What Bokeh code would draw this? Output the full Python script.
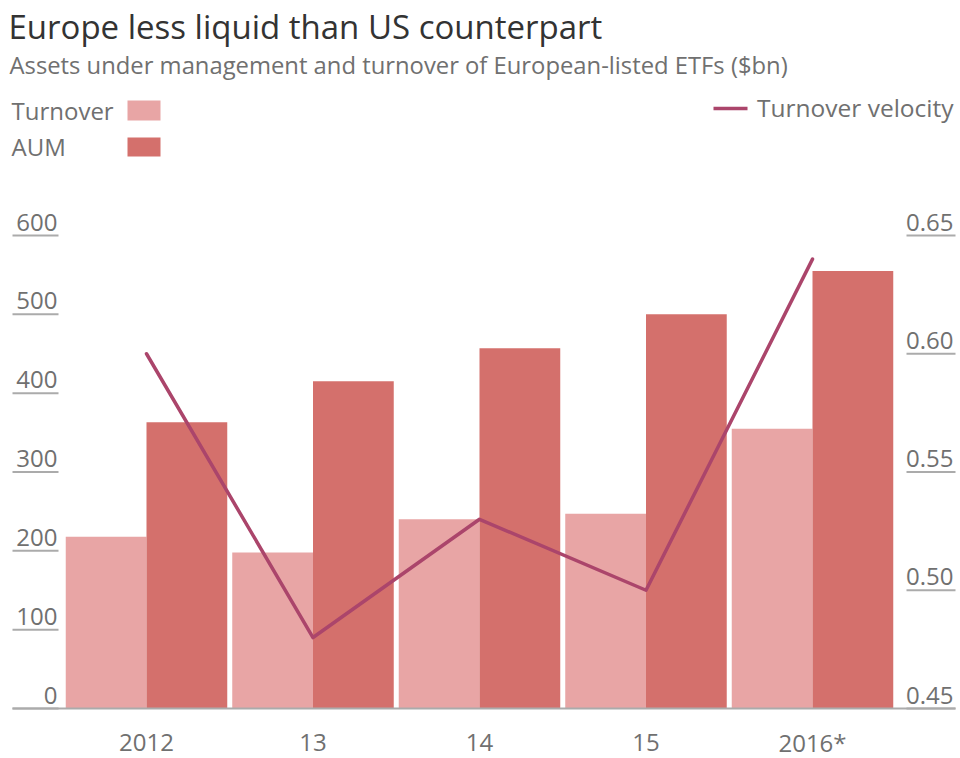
from bokeh.plotting import figure
from bokeh.models import Range1d, Label
from bokeh.core.properties import value
from bokeh.embed import file_html
from bokeh.resources import INLINE

# ---------------- data ----------------
years = ["2012", "13", "14", "15", "2016*"]
turnover = [218, 198, 240, 247, 355]
aum = [363, 415, 457, 500, 555]
velocity = [0.600, 0.480, 0.530, 0.500, 0.640]
left_ticks = [0, 100, 200, 300, 400, 500, 600]
left_tick_labels = ["0", "100", "200", "300", "400", "500", "600"]
right_ticks = [0.45, 0.50, 0.55, 0.60, 0.65]
right_tick_labels = ["0.45", "0.50", "0.55", "0.60", "0.65"]

title = "Europe less liquid than US counterpart"
subtitle = "Assets under management and turnover of European-listed ETFs ($bn)"

# ---------------- layout (pixels) ----------------
W, H = 960, 758
X0_PX, DX_PX = 146.0, 166.5      # first group centre, group spacing
Y0_PX, DY_PX = 708.0, 473.0 / 600.0   # zero line, pixels per $bn
BAR_W = 0.485
VEL_MIN, VEL_SPAN, LEFT_SPAN = 0.45, 0.20, 600.0

def xd(px):
    return (px - X0_PX) / DX_PX

def yd(py):
    return (Y0_PX - py) / DY_PX

FONT = "Open Sans"
C_TURN = "#e8a5a5"
C_AUM = "#d4706c"
C_LINE = "#ab456b"
C_TEXT = "#707070"
C_GRID = "#ababab"

p = figure(width=W, height=H, output_backend="svg", toolbar_location=None,
           x_range=Range1d(xd(0), xd(W)), y_range=Range1d(yd(H), yd(0)),
           x_axis_location=None, y_axis_location=None, min_border=0)
p.extra_y_ranges = {"vel": Range1d(VEL_MIN + yd(H) * VEL_SPAN / LEFT_SPAN,
                                   VEL_MIN + yd(0) * VEL_SPAN / LEFT_SPAN)}
p.grid.visible = False
p.outline_line_color = None
p.background_fill_color = "white"
p.border_fill_color = "white"

idx = list(range(len(years)))

# bars
p.vbar(x=[i - BAR_W / 2 for i in idx], width=BAR_W, top=turnover, bottom=0,
       fill_color=C_TURN, line_color=None)
p.vbar(x=[i + BAR_W / 2 for i in idx], width=BAR_W, top=aum, bottom=0,
       fill_color=C_AUM, line_color=None)

# velocity line
p.line(x=idx, y=velocity, y_range_name="vel", line_color=C_LINE, line_width=3.5,
       line_cap="round", line_join="round")

# baseline
p.segment(x0=[xd(12)], x1=[xd(955)], y0=[0], y1=[0], line_color=C_GRID, line_width=2)

# left tick labels with underlines
p.segment(x0=[xd(12)] * len(left_ticks), x1=[xd(58)] * len(left_ticks),
          y0=left_ticks, y1=left_ticks, line_color=C_GRID, line_width=2)
p.text(x=[xd(57)] * len(left_ticks), y=left_ticks, text=left_tick_labels,
       text_font=value(FONT), text_font_size="24px", text_color=C_TEXT,
       text_align="right", text_baseline="bottom", y_offset=-5)

# right tick labels with underlines
p.segment(x0=[xd(906)] * len(right_ticks), x1=[xd(955)] * len(right_ticks),
          y0=right_ticks, y1=right_ticks, y_range_name="vel",
          line_color=C_GRID, line_width=2)
p.text(x=[xd(953)] * len(right_ticks), y=right_ticks, text=right_tick_labels,
       y_range_name="vel", text_font=value(FONT), text_font_size="24px",
       text_color=C_TEXT, text_align="right", text_baseline="bottom", y_offset=-5)

# category labels
p.text(x=idx, y=[yd(742)] * len(idx), text=years, text_font=value(FONT),
       text_font_size="24px", text_color=C_TEXT, text_align="center",
       text_baseline="middle")

# title and subtitle
p.add_layout(Label(x=xd(8), y=yd(26), text=title, text_font=FONT,
                   text_font_size="33px", text_color="#333333",
                   text_baseline="middle", text_align="left"))
p.add_layout(Label(x=xd(9), y=yd(64), text=subtitle, text_font=FONT,
                   text_font_size="23.8px", text_color=C_TEXT,
                   text_baseline="middle", text_align="left"))

# legend
p.add_layout(Label(x=xd(11), y=yd(110), text="Turnover", text_font=FONT,
                   text_font_size="24px", text_color=C_TEXT,
                   text_baseline="middle", text_align="left"))
p.add_layout(Label(x=xd(11), y=yd(146), text="AUM", text_font=FONT,
                   text_font_size="24px", text_color=C_TEXT,
                   text_baseline="middle", text_align="left"))
p.quad(left=[xd(127), xd(127)], right=[xd(160), xd(160)],
       top=[yd(100), yd(137)], bottom=[yd(120), yd(156)],
       fill_color=[C_TURN, C_AUM], line_color=None)
p.segment(x0=[xd(713)], x1=[xd(747)], y0=[yd(108)], y1=[yd(108)],
          line_color=C_LINE, line_width=3.5)
p.add_layout(Label(x=xd(953), y=yd(107), text="Turnover velocity", text_font=FONT,
                   text_font_size="24.5px", text_color=C_TEXT,
                   text_baseline="middle", text_align="right"))

open("out.html", "w").write(file_html(p, INLINE))
